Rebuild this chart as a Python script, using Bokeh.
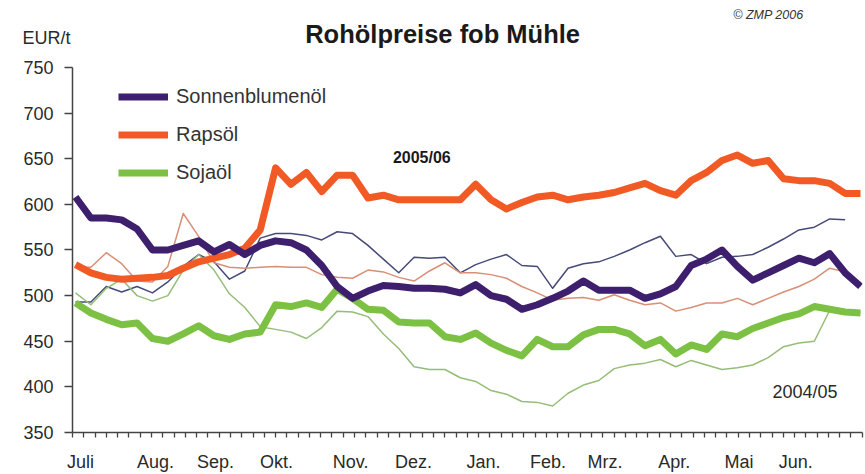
import math
import numpy as np
from bokeh.plotting import figure
from bokeh.models import (Range1d, FixedTicker, Label, Legend, LegendItem,
                          ColumnDataSource, LinearAxis)
from bokeh.embed import file_html
from bokeh.resources import INLINE

nan = math.nan

# week index within the marketing year (July .. June)
weeks = list(range(52))

# 2005/06 (thick lines)
sonnenblume_0506 = [608, 585, 585, 583, 573, 550, 550, 555, 560, 548, 556, 545, 555, 560, 558, 550,
                    533, 510, 497, 505, 511, 510, 508, 508, 507, 503, 512, 500, 496, 485, 490, 497,
                    505, 516, 506, 506, 506, 497, 502, 510, 533, 540, 550, 532, 517, 525, 533, 541,
                    536, 546, 525, 510]
raps_0506 = [534, 525, 520, 518, 519, 520, 522, 530, 537, 541, 545, 552, 572, 640, 622, 635,
             614, 632, 632, 607, 610, 605, 605, 605, 605, 605, 622, 605, 595, 602, 608, 610,
             605, 608, 610, 613, 618, 623, 615, 610, 626, 635, 648, 654, 645, 648, 628, 626,
             626, 623, 612, 612]
soja_0506 = [492, 481, 474, 468, 470, 453, 450, 458, 467, 456, 452, 458, 460, 490, 488, 492,
             487, 507, 497, 485, 484, 471, 470, 470, 455, 452, 459, 448, 440, 434, 452, 444,
             444, 457, 463, 463, 458, 445, 452, 436, 446, 441, 458, 455, 464, 470, 476, 480,
             488, 485, 482, 481]

# 2004/05 (thin lines)
sonnenblume_0405 = [493, 493, 510, 504, 510, 503, 515, 532, 545, 537, 518, 527, 563, 568, 568, 566,
                    561, 570, 568, 555, 540, 525, 542, 541, 542, 525, 534, 540, 545, 533, 532, 508,
                    530, 535, 537, 543, 550, 558, 565, 543, 545, 535, 542, 543, 545, 553, 562, 572,
                    575, 584, 583, nan]
raps_0405 = [531, 531, 547, 535, 516, 515, 532, 590, 565, 536, 531, 530, 531, 532, 531, 531,
             523, 520, 519, 528, 526, 520, 516, 527, 536, 525, 525, 523, 519, 510, 503, 495,
             497, 498, 495, 501, 495, 490, 492, 483, 487, 492, 492, 497, 490, 497, 504, 510,
             518, 530, 526, 510]
soja_0405 = [503, 490, 508, 518, 500, 494, 500, 528, 545, 528, 502, 487, 466, 463, 460, 453,
             465, 483, 482, 477, 458, 442, 422, 419, 419, 410, 406, 396, 392, 384, 383, 379,
             393, 402, 407, 420, 424, 426, 430, 422, 429, 424, 419, 421, 424, 432, 444, 448,
             450, 484, 482, 481]

month_labels = ["Juli", "Aug.", "Sep.", "Okt.", "Nov.", "Dez.", "Jan.", "Feb.", "Mrz.", "Apr.", "Mai", "Jun."]
month_pos = [0.32, 5.2, 9.1, 13.06, 17.87, 21.96, 26.5, 30.7, 34.4, 38.9, 43.1, 46.8]
y_ticks = [350, 400, 450, 500, 550, 600, 650, 700, 750]
unit_label = "EUR/t"
unit_pos = 782

FONT = "Liberation Sans"

src = ColumnDataSource(dict(w=weeks,
                            sb05=sonnenblume_0506, rp05=raps_0506, sj05=soja_0506,
                            sb04=sonnenblume_0405, rp04=raps_0405, sj04=soja_0405))

x0, x1 = -0.195, 51.13
y0, y1 = 350, 819
p = figure(width=865, height=474, output_backend="svg", toolbar_location=None,
           x_range=Range1d(x0, x1), y_range=Range1d(y0, y1),
           min_border_left=72, min_border_right=3, min_border_top=4, min_border_bottom=41,
           background_fill_color="white", border_fill_color="white")
p.outline_line_color = None
p.grid.grid_line_color = None

# thin lines (2004/05)
p.line("w", "sb04", source=src, color="#454a78", line_width=1.5, line_join="round")
p.line("w", "rp04", source=src, color="#d98f76", line_width=1.5, line_join="round")
p.line("w", "sj04", source=src, color="#95bd78", line_width=1.5, line_join="round")

# thick lines (2005/06)
r_sj = p.line("w", "sj05", source=src, color="#7cc143", line_width=7, line_join="round")
r_rp = p.line("w", "rp05", source=src, color="#f15a24", line_width=7, line_join="round")
r_sb = p.line("w", "sb05", source=src, color="#3d1f6d", line_width=7, line_join="round")

# x axis
minor = list(np.arange(x0, x1, 0.733))
p.xaxis.ticker = FixedTicker(ticks=month_pos, minor_ticks=minor)
p.xaxis.major_label_overrides = {pos: lab for pos, lab in zip(month_pos, month_labels)}
p.xaxis.major_tick_line_color = None
p.xaxis.minor_tick_out = 5
p.xaxis.minor_tick_in = 0
p.xaxis.minor_tick_line_color = "#444444"
p.xaxis.minor_tick_line_width = 1.3
p.xaxis.major_label_standoff = 13
p.xaxis.major_label_text_font = FONT
p.xaxis.major_label_text_font_size = "18px"
p.xaxis.major_label_text_color = "#2a2a2a"
p.xaxis.axis_line_color = "#444444"
p.xaxis.axis_line_width = 1.5

# y axis (values)
ya = p.yaxis[0]
ya.bounds = (y_ticks[0], y_ticks[-1])
ya.ticker = FixedTicker(ticks=y_ticks)
ya.major_tick_out = 8
ya.major_tick_in = 0
ya.minor_tick_line_color = None
ya.major_tick_line_color = "#444444"
ya.major_tick_line_width = 1.3
ya.major_label_standoff = 11
ya.major_label_text_font = FONT
ya.major_label_text_font_size = "18px"
ya.major_label_text_color = "#2a2a2a"
ya.axis_line_color = "#444444"
ya.axis_line_width = 1.5

# unit label on the left, above the value axis
yu = LinearAxis(ticker=FixedTicker(ticks=[unit_pos]), bounds=(unit_pos - 5, unit_pos + 5),
                major_label_overrides={unit_pos: unit_label},
                axis_line_color=None, major_tick_line_color=None, minor_tick_line_color=None,
                major_tick_out=0, major_tick_in=0, major_label_standoff=-50,
                major_label_text_font=FONT, major_label_text_font_size="18px",
                major_label_text_color="#2a2a2a")
p.add_layout(yu, "left")

# legend
legend = Legend(items=[LegendItem(label="Sonnenblumenöl", renderers=[r_sb]),
                       LegendItem(label="Rapsöl", renderers=[r_rp]),
                       LegendItem(label="Sojaöl", renderers=[r_sj])],
                location=(46, 248), glyph_width=50, glyph_height=23, label_height=23,
                spacing=15, padding=0, margin=0, label_standoff=8,
                label_text_font=FONT, label_text_font_size="20px", label_text_color="#333333",
                border_line_color=None, background_fill_alpha=0)
p.add_layout(legend, "center")

# texts
p.add_layout(Label(x=23.85, y=787, text="Rohölpreise fob Mühle", text_align="center",
                   text_baseline="middle", text_font=FONT, text_font_style="bold",
                   text_font_size="25.5px", text_color="#1a1a1a"))
p.add_layout(Label(x=47.3, y=807, text="© ZMP 2006", text_align="right", text_baseline="middle",
                   text_font=FONT, text_font_style="italic", text_font_size="12.5px",
                   text_color="#333333"))
p.add_layout(Label(x=22.5, y=651.6, text="2005/06", text_align="center", text_baseline="middle",
                   text_font=FONT, text_font_style="bold", text_font_size="16px",
                   text_color="#1a1a1a"))
p.add_layout(Label(x=47.4, y=394.8, text="2004/05", text_align="center", text_baseline="middle",
                   text_font=FONT, text_font_size="18px", text_color="#2a2a2a"))

open("out.html", "w").write(file_html(p, INLINE))
